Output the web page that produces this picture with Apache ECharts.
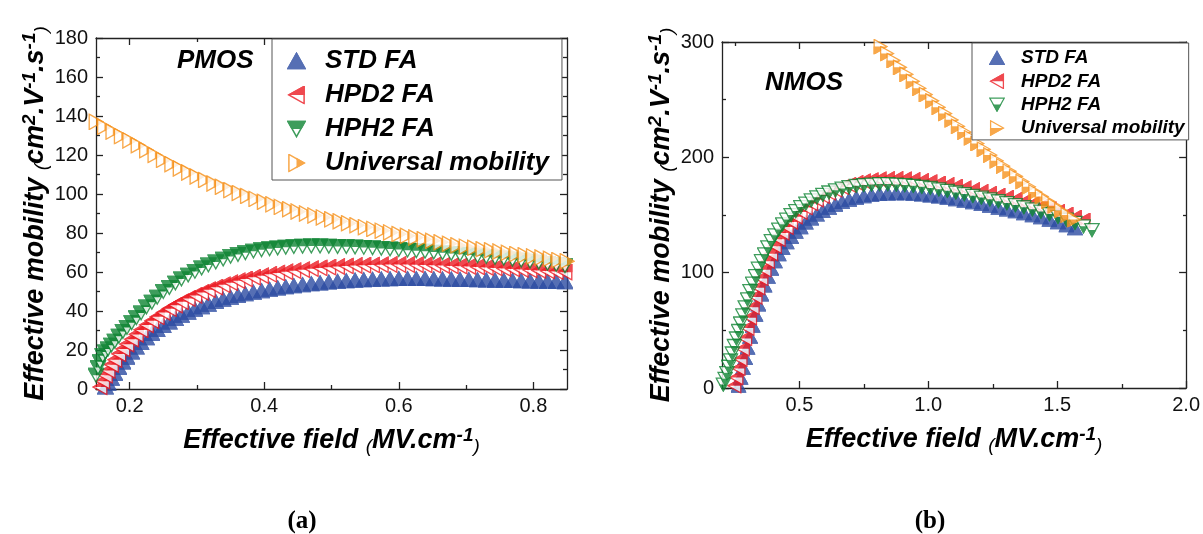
<!DOCTYPE html>
<html><head><meta charset="utf-8">
<script src="https://cdn.jsdelivr.net/npm/echarts@6/dist/echarts.min.js"></script>
<style>html,body{margin:0;padding:0;background:#fff}#c{width:1203px;height:534px}</style>
</head><body><div id="c"></div>
<script>
const seriesNames = ['STD FA', 'HPD2 FA', 'HPH2 FA', 'Universal mobility'];
const colors = ['#2c4ca2', '#ec1c24', '#0f8534', '#f7931e'];

// ---------- PMOS (a) ----------
const pmosX = [0.150,0.153,0.156,0.160,0.164,0.168,0.173,0.178,0.184,0.190,0.196,0.203,0.210,0.217,0.225,0.233,0.241,0.250,0.259,0.268,0.277,0.287,0.297,0.307,0.317,0.328,0.339,0.350,0.361,0.372,0.384,0.396,0.408,0.420,0.432,0.444,0.457,0.470,0.483,0.496,0.509,0.522,0.535,0.548,0.561,0.574,0.587,0.600,0.613,0.626,0.639,0.652,0.665,0.678,0.691,0.704,0.717,0.730,0.743,0.756,0.769,0.782,0.795,0.808,0.821,0.834,0.847];
const pmosStd = [null,null,null,null,1,3,5.5,8,11,13.8,16.3,19,21.5,23.8,26.3,28.5,30.5,32.5,34.4,36.2,37.8,39.4,40.9,42.2,43.5,44.8,46,47,47.9,48.8,49.6,50.4,51.1,51.8,52.4,53,53.5,54,54.4,54.8,55.2,55.5,55.8,56,56.2,56.4,56.5,56.6,56.6,56.6,56.6,56.5,56.4,56.3,56.2,56.1,56,55.9,55.8,55.7,55.6,55.5,55.4,55.3,55.2,55.1,55];
const pmosHpd2 = [null,null,1,4,7,9.5,12.5,15,18,20.5,23,25.5,28,30.3,32.8,35,37,39.2,41.2,43,44.7,46.4,48,49.5,50.9,52.2,53.4,54.5,55.5,56.4,57.3,58.1,58.8,59.5,60.1,60.7,61.2,61.7,62.1,62.5,62.8,63.1,63.3,63.5,63.6,63.7,63.8,63.8,63.8,63.7,63.6,63.5,63.3,63.1,63,62.8,62.6,62.3,62.1,61.8,61.6,61.3,61,60.8,60.5,60.2,59.9];
const pmosHph2 = [7,11,14,17,19,20.5,22.5,24.5,27,29.5,31.5,34,36.5,39,42,44.5,47,50,52,54.3,56.4,58.4,60.3,62,63.6,65.1,66.6,68,69,69.9,70.7,71.4,71.9,72.3,72.7,73,73.2,73.3,73.3,73.2,73.1,73,72.8,72.6,72.4,72.1,71.8,71.5,71.2,70.9,70.6,70.2,69.9,69.5,69.1,68.7,68.3,67.9,67.4,67,66.5,66,65.5,65,64.4,63.8,63.2];
const pmosUnivX = [0.15,0.1625,0.175,0.1875,0.2,0.2125,0.225,0.2375,0.25,0.2625,0.275,0.2875,0.3,0.3125,0.325,0.3375,0.35,0.3625,0.375,0.3875,0.4,0.4125,0.425,0.4375,0.45,0.4625,0.475,0.4875,0.5,0.5125,0.525,0.5375,0.55,0.5625,0.575,0.5875,0.6,0.6125,0.625,0.6375,0.65,0.6625,0.675,0.6875,0.7,0.7125,0.725,0.7375,0.75,0.7625,0.775,0.7875,0.8,0.8125,0.825,0.8375,0.85];
const pmosUniv = [137,134.5,132,129.7,127.5,125,122.5,120,117.5,115.3,113.1,111,109,107.2,105.4,103.7,102,100.5,99,97.5,96,94.7,93.4,92.2,91,90,89,88,87,86,85,84,83,82.1,81.2,80.3,79.5,78.6,77.7,76.8,76,75.2,74.5,73.7,73,72.4,71.7,71.1,70.5,69.9,69.2,68.6,68,67.4,66.8,66.1,65.5];
const pmosXMajor = [0.2, 0.4, 0.6, 0.8];
const pmosXMinor = [0.3, 0.5, 0.7];
const pmosYMajor = [0, 20, 40, 60, 80, 100, 120, 140, 160, 180];
const pmosYMinor = [10, 30, 50, 70, 90, 110, 130, 150, 170];

// ---------- NMOS (b) ----------
const nmosX = [0.205,0.212,0.219,0.226,0.233,0.240,0.248,0.256,0.264,0.272,0.281,0.290,0.299,0.309,0.319,0.330,0.341,0.353,0.365,0.378,0.391,0.405,0.420,0.435,0.451,0.468,0.486,0.505,0.525,0.546,0.568,0.591,0.615,0.640,0.666,0.693,0.721,0.750,0.780,0.811,0.843,0.876,0.909,0.942,0.975,1.008,1.041,1.074,1.107,1.140,1.173,1.206,1.239,1.272,1.305,1.338,1.371,1.404,1.437,1.470,1.503,1.536,1.569,1.602,1.635];
const nmosStd = [null,null,null,null,null,null,null,null,2,9,17.5,26,35,44.5,54,63.5,72.5,81,89,96.5,103.5,110,116,121.5,126.5,131,135.5,139.5,143.5,147,150.5,153.5,156.3,158.9,161.2,163.2,164.9,166.3,167.4,168.2,168.7,168.9,168.8,168.4,167.8,167,166,164.9,163.7,162.4,161,159.5,158,156.4,154.8,153.2,151.5,149.8,148,146,143.8,141.2,138.5,null,null];
const nmosHpd2 = [null,null,null,null,null,null,2,9,17,25,34,43,52,61,70,79,87,95,102.5,110,116.5,123,129,134.5,139.5,144,148.5,152.5,156.5,160,163.3,166.4,169.2,171.8,174.1,176.1,177.8,179.2,180.2,180.9,181.2,181.2,180.9,180.3,179.5,178.5,177.3,176,174.6,173.1,171.6,170,168.4,166.7,165,163.2,161.3,159.3,157.2,155,152.7,150.3,147.8,145.2,null];
const nmosHph2 = [3,8,13,18.5,24,30,36.5,43,49.5,56,63,70,77,84,90.5,97,103.5,110,116,122,127.5,132.5,137.5,142,146,150,153.5,157,160,162.8,165.3,167.6,169.6,171.4,173,174.3,175.3,176,176.5,176.8,176.8,176.5,176,175.3,174.5,173.5,172.3,171,169.6,168.2,166.7,165.2,163.6,162,160.3,158.6,156.8,155,153,150.8,148.5,146,143.2,140.2,137];
const nmosUnivX = [0.79,0.815,0.84,0.865,0.89,0.915,0.94,0.965,0.99,1.015,1.04,1.065,1.09,1.115,1.14,1.165,1.19,1.215,1.24,1.265,1.29,1.315,1.34,1.365,1.39,1.415,1.44,1.465,1.49,1.515,1.54,1.565];
const nmosUniv = [302,296,290,284,278,272,266,260,254.5,249,243.5,238,232.5,227,222,217,212,207,202,197,192.5,188,183.5,179,174.5,170,166,162,158,154,150,146];
const nmosXMajor = [0.5, 1.0, 1.5, 2.0];
const nmosXMinor = [0.25, 0.75, 1.25, 1.75];
const nmosYMajor = [0, 100, 200, 300];
const nmosYMinor = [50, 150, 250];

// ---------- helpers ----------
const F = '"Liberation Sans", Arial, sans-serif';
function pts(xs, ys) { return xs.map((x, i) => ys[i] == null ? null : [x, ys[i]]).filter(Boolean); }
function tri(dir, half, color) {
  const P = {up: '10,2 19,18 1,18', down: '1,2 19,2 10,18',
             left: '2,10 18,1 18,19', right: '2,1 18,10 2,19'}[dir];
  const R = {top: [0, 0, 20, 10], bottom: [0, 10, 20, 10], right: [10, 0, 10, 20], full: [0, 0, 20, 20]}[half];
  const svg = '<svg xmlns="http://www.w3.org/2000/svg" width="40" height="40" viewBox="0 0 20 20">' +
    '<defs><clipPath id="k"><rect x="' + R[0] + '" y="' + R[1] + '" width="' + R[2] + '" height="' + R[3] + '"/></clipPath></defs>' +
    '<polygon points="' + P + '" fill="#fff" stroke="' + color + '" stroke-width="1.6"/>' +
    '<polygon points="' + P + '" fill="' + color + '" stroke="' + color + '" stroke-width="1.6" clip-path="url(#k)"/></svg>';
  return 'image://data:image/svg+xml;charset=utf-8,' + encodeURIComponent(svg);
}
const symA = [tri('up', 'full', colors[0]), tri('left', 'top', colors[1]), tri('down', 'top', colors[2]), tri('right', 'right', colors[3])];
const symB = [tri('up', 'full', colors[0]), tri('left', 'top', colors[1]), tri('down', 'bottom', colors[2]), tri('right', 'bottom', colors[3])];

const nameRich = {
  t: {fontFamily: F, fontSize: 27, fontWeight: 'bold', fontStyle: 'italic', color: '#000', lineHeight: 30},
  p: {fontFamily: F, fontSize: 19, fontStyle: 'italic', color: '#000', lineHeight: 30, verticalAlign: 'bottom'},
  s: {fontFamily: F, fontSize: 19, fontWeight: 'bold', fontStyle: 'italic', color: '#000', lineHeight: 19, verticalAlign: 'top'}
};
const xName = '{t|Effective field }{p|(}{t|MV.cm}{s|-1}{p|)}';
const yName = '{t|Effective mobility }{p|(}{t|cm}{s|2}{t|.V}{s|-1}{t|.s}{s|-1}{p|)}';
const lineStyle = {color: '#222', width: 1.3};
const labelStyle = {fontFamily: F, fontSize: 20, color: '#111'};

function xAxes(grid, gMinor, min, max, major, minor, nameGap) {
  return [
    {type: 'value', gridIndex: grid, position: 'bottom', min, max, splitLine: {show: false},
     axisLine: {show: true, onZero: false, lineStyle}, axisTick: {show: true, inside: true, length: 7, customValues: major, lineStyle},
     axisLabel: {show: true, customValues: major, margin: 7, formatter: v => v.toFixed(1), ...labelStyle},
     name: xName, nameLocation: 'middle', nameGap, nameTextStyle: {rich: nameRich}},
    {type: 'value', gridIndex: grid, position: 'top', min, max, splitLine: {show: false},
     axisLine: {show: true, onZero: false, lineStyle}, axisTick: {show: true, inside: true, length: 7, customValues: major, lineStyle},
     axisLabel: {show: false}},
    {type: 'value', gridIndex: gMinor, position: 'bottom', min, max, splitLine: {show: false},
     axisLine: {show: false, onZero: false}, axisTick: {show: true, inside: true, length: 4, customValues: minor, lineStyle},
     axisLabel: {show: false}},
    {type: 'value', gridIndex: gMinor, position: 'top', min, max, splitLine: {show: false},
     axisLine: {show: false, onZero: false}, axisTick: {show: true, inside: true, length: 4, customValues: minor, lineStyle},
     axisLabel: {show: false}}
  ];
}
function yAxes(grid, gMinor, min, max, major, minor, nameGap) {
  return [
    {type: 'value', gridIndex: grid, position: 'left', min, max, splitLine: {show: false},
     axisLine: {show: true, onZero: false, lineStyle}, axisTick: {show: true, inside: true, length: 7, customValues: major, lineStyle},
     axisLabel: {show: true, customValues: major, margin: 8, ...labelStyle},
     name: yName, nameLocation: 'middle', nameGap, nameTextStyle: {rich: nameRich}},
    {type: 'value', gridIndex: grid, position: 'right', min, max, splitLine: {show: false},
     axisLine: {show: true, onZero: false, lineStyle}, axisTick: {show: true, inside: true, length: 7, customValues: major, lineStyle},
     axisLabel: {show: false}},
    {type: 'value', gridIndex: gMinor, position: 'left', min, max, splitLine: {show: false},
     axisLine: {show: false, onZero: false}, axisTick: {show: true, inside: true, length: 4, customValues: minor, lineStyle},
     axisLabel: {show: false}},
    {type: 'value', gridIndex: gMinor, position: 'right', min, max, splitLine: {show: false},
     axisLine: {show: false, onZero: false}, axisTick: {show: true, inside: true, length: 4, customValues: minor, lineStyle},
     axisLabel: {show: false}}
  ];
}

const gA = {left: 96, top: 38, width: 471, height: 351};
const gB = {left: 722, top: 42, width: 465, height: 346};

function mkSeries(name, data, sym, size, axisIdx) {
  return {type: 'scatter', name, data, symbol: sym, symbolSize: size, xAxisIndex: axisIdx, yAxisIndex: axisIdx,
          clip: true, animation: false, emphasis: {disabled: true}};
}

const series = [
  mkSeries(seriesNames[0], pts(pmosX, pmosStd), symA[0], 17, 0),
  mkSeries(seriesNames[1], pts(pmosX, pmosHpd2), symA[1], 17, 0),
  mkSeries(seriesNames[2], pts(pmosX, pmosHph2), symA[2], 17, 0),
  mkSeries(seriesNames[3], pts(pmosUnivX, pmosUniv), symA[3], 17, 0),
  mkSeries(seriesNames[0], pts(nmosX, nmosStd), symB[0], 16, 4),
  mkSeries(seriesNames[1], pts(nmosX, nmosHpd2), symB[1], 16, 4),
  mkSeries(seriesNames[2], pts(nmosX, nmosHph2), symB[2], 16, 4),
  mkSeries(seriesNames[3], pts(nmosUnivX, nmosUniv), symB[3], 16, 4)
];

const legendText = (size, padLeft, lh) => ({fontFamily: F, fontSize: size, fontWeight: 'bold', fontStyle: 'italic', color: '#000', padding: [0, 0, 0, padLeft], lineHeight: lh});

const option = {
  backgroundColor: '#fff',
  animation: false,
  grid: [gA, gA, gB, gB],
  xAxis: [...xAxes(0, 1, 0.15, 0.85, pmosXMajor, pmosXMinor, 37), ...xAxes(2, 3, 0.2, 2.0, nmosXMajor, nmosXMinor, 37)],
  yAxis: [...yAxes(0, 1, 0, 180, pmosYMajor, pmosYMinor, 40), ...yAxes(2, 3, 0, 300, nmosYMajor, nmosYMinor, 41)],
  legend: [
    {left: 272, top: 39, orient: 'vertical', selectedMode: false, itemWidth: 19, itemHeight: 19, itemGap: 4,
     padding: [7, 13, 2, 15], borderColor: '#555', borderWidth: 1, backgroundColor: '#fff',
     data: seriesNames.map((n, i) => ({name: n, icon: symA[i]})), textStyle: legendText(26, 14, 30)},
    {left: 972, top: 43, orient: 'vertical', selectedMode: false, itemWidth: 16, itemHeight: 16, itemGap: 3.3,
     padding: [5, 4, 2, 17], borderColor: '#555', borderWidth: 1, backgroundColor: '#fff',
     data: seriesNames.map((n, i) => ({name: n, icon: symB[i]})), textStyle: legendText(19, 11, 20)}
  ],
  title: [
    {text: 'PMOS', left: 177, top: 48, padding: 0, textStyle: {fontFamily: F, fontSize: 26, fontWeight: 'bold', fontStyle: 'italic', color: '#000'}},
    {text: 'NMOS', left: 765, top: 70, padding: 0, textStyle: {fontFamily: F, fontSize: 26, fontWeight: 'bold', fontStyle: 'italic', color: '#000'}},
    {text: '(a)', left: 302, top: 509, padding: 0, textAlign: 'center', textStyle: {fontFamily: '"Liberation Serif", "Times New Roman", serif', fontSize: 25, fontWeight: 'bold', color: '#000'}},
    {text: '(b)', left: 930, top: 509, padding: 0, textAlign: 'center', textStyle: {fontFamily: '"Liberation Serif", "Times New Roman", serif', fontSize: 25, fontWeight: 'bold', color: '#000'}}
  ],
  series
};
const chart = echarts.init(document.getElementById('c'), null, {renderer: 'canvas'});
chart.setOption(option);
</script>
</body></html>
